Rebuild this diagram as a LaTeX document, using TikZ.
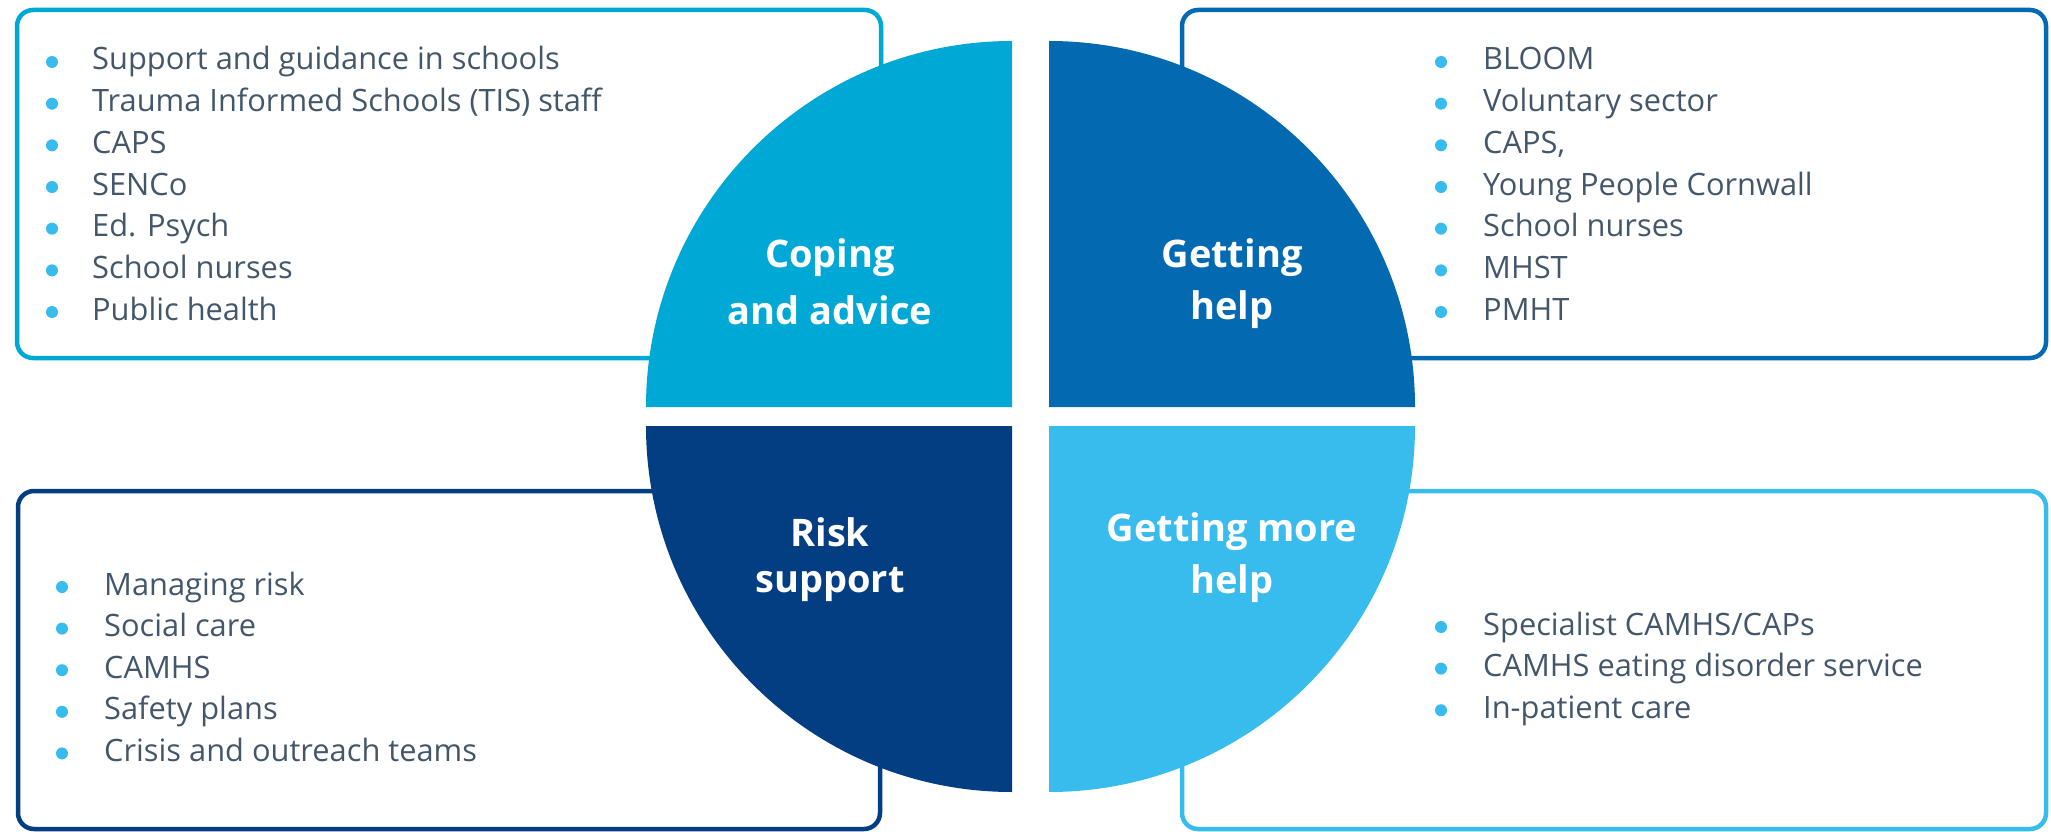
\documentclass[tikz,border=0pt]{standalone}
\usepackage{fontspec}
\setmainfont{Open Sans}
\definecolor{cA}{HTML}{00A8D6}
\definecolor{cB}{HTML}{0369B1}
\definecolor{cC}{HTML}{033E82}
\definecolor{cD}{HTML}{38BCEE}
\definecolor{txt}{HTML}{44576A}
\begin{document}
\begin{tikzpicture}[x=1pt,y=-1pt,
  box/.style={draw,line width=4.5pt,rounded corners=16pt,fill=white,inner sep=0pt,minimum width=#1},
  item/.style={anchor=base west,inner sep=0pt,text=txt,font=\fontsize{30.8}{36}\selectfont},
  dot/.style={circle,fill=cD,inner sep=0pt,minimum size=12pt},
  lab/.style={align=center,text=white,font=\fontsize{38}{52}\selectfont\bfseries,inner sep=0pt}
]
\useasboundingbox (0,0) rectangle (2051,832);
% boxes
\node[box=864pt,draw=cA,minimum height=348pt] (boxA) at (449,184) {};
\node[box=864pt,draw=cB,minimum height=348pt] (boxB) at (1614,184) {};
\node[box=862pt,draw=cC,minimum height=338pt] (boxC) at (449,660) {};
\node[box=864pt,draw=cD,minimum height=338pt] (boxD) at (1614,660) {};
% quadrants
\fill[cA] (1012,407) -- ++(-366,0) arc[start angle=180,end angle=270,radius=366] -- cycle;
\fill[cB] (1049,407) -- ++(0,-366) arc[start angle=270,end angle=360,radius=366] -- cycle;
\fill[cC] (1012,426) -- ++(0,366) arc[start angle=90,end angle=180,radius=366] -- cycle;
\fill[cD] (1049,426) -- ++(366,0) arc[start angle=0,end angle=90,radius=366] -- cycle;
% labels
\node[lab] (labA1) at (830,258) {Coping};
\node[lab] (labA2) at (830,310) {and advice};
\node[lab] (labB1) at (1232,258) {Getting};
\node[lab] (labB2) at (1232,310) {help};
\node[lab] (labC1) at (830,532) {Risk};
\node[lab] (labC2) at (830,584) {support};
\node[lab] (labD1) at (1232,532) {Getting more};
\node[lab] (labD2) at (1232,584) {help};
% items A
\foreach \t [count=\i] in {Support and guidance in schools,Trauma Informed Schools (TIS) staff,CAPS,SENCo,Ed. Psych,School nurses,Public health}{
  \node[dot] (dA\i) at (52,{62+41.67*(\i-1)}) {};
  \node[item] (tA\i) at (92,{70+41.67*(\i-1)}) {\t};
}
% items B
\foreach \t [count=\i] in {BLOOM,Voluntary sector,{CAPS,},Young People Cornwall,School nurses,MHST,PMHT}{
  \node[dot] (dB\i) at (1441,{62+41.67*(\i-1)}) {};
  \node[item] (tB\i) at (1483,{70+41.67*(\i-1)}) {\t};
}
% items C
\foreach \t [count=\i] in {Managing risk,Social care,CAMHS,Safety plans,Crisis and outreach teams}{
  \node[dot] (dC\i) at (62,{587+41.6*(\i-1)}) {};
  \node[item] (tC\i) at (104,{595+41.6*(\i-1)}) {\t};
}
% items D
\foreach \t [count=\i] in {Specialist CAMHS/CAPs,CAMHS eating disorder service,In-patient care}{
  \node[dot] (dD\i) at (1441,{627+41.6*(\i-1)}) {};
  \node[item] (tD\i) at (1483,{635+41.6*(\i-1)}) {\t};
}
\end{tikzpicture}
\end{document}
